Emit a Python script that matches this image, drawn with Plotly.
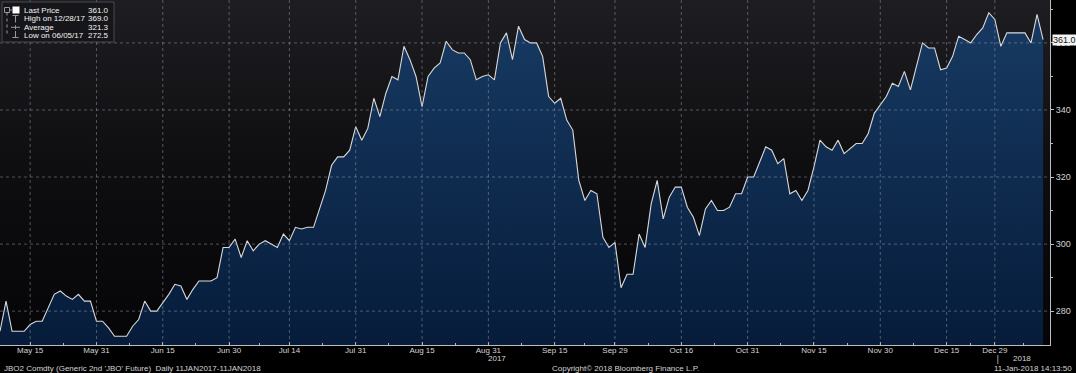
import plotly.graph_objects as go
import pandas as pd

# ---------------- data ----------------
HOLIDAYS = ["2017-05-29", "2017-08-28", "2017-12-25", "2017-12-26", "2018-01-01"]
DATES = [d.strftime("%Y-%m-%d") for d in pd.bdate_range("2017-05-08", "2018-01-11")
         if d.strftime("%Y-%m-%d") not in HOLIDAYS]

PRICES = [
    274.0, 283.0, 274.0, 274.0, 274.0, 276.0, 277.0, 277.0, 281.0, 285.0,
    286.0, 284.5, 283.5, 285.0, 283.0, 283.0, 277.0, 277.0, 275.0, 272.5,
    272.5, 272.5, 275.5, 277.5, 283.0, 280.0, 280.0, 282.5, 285.0, 288.0,
    287.5, 283.5, 286.5, 289.0, 289.0, 289.0, 290.0, 299.0, 299.0, 301.5,
    296.0, 301.0, 298.0, 300.0, 301.0, 300.0, 299.0, 303.0, 301.0, 305.0,
    304.5, 305.0, 305.0, 310.5, 316.0, 323.5, 326.0, 326.0, 328.0, 335.0,
    331.0, 334.5, 343.5, 338.0, 345.0, 350.0, 349.0, 359.0, 355.0, 350.0,
    341.0, 350.0, 352.5, 354.0, 360.5, 358.0, 357.0, 357.0, 355.0, 349.0,
    350.0, 350.5, 349.0, 360.0, 363.0, 355.0, 365.0, 361.0, 360.0, 360.0,
    356.0, 344.0, 342.0, 343.5, 337.0, 334.0, 319.0, 313.0, 316.0, 315.0,
    302.0, 299.0, 300.5, 287.0, 291.0, 291.0, 303.0, 299.0, 312.0, 319.0,
    307.5, 314.0, 317.0, 317.0, 311.0, 308.0, 302.5, 310.5, 313.0, 310.0,
    310.0, 311.0, 315.0, 315.0, 320.0, 320.0, 324.5, 329.0, 328.0, 324.0,
    325.5, 315.0, 316.0, 313.0, 316.0, 323.0, 331.0, 329.0, 328.0, 331.0,
    327.0, 328.5, 330.0, 330.0, 333.0, 339.0, 341.5, 344.0, 348.0, 347.0,
    351.5, 346.0, 353.0, 360.0, 358.5, 358.5, 352.0, 352.5, 356.0, 362.0,
    361.0, 360.0, 362.5, 364.5, 369.0, 367.0, 359.0, 363.0, 363.0, 363.0,
    363.0, 360.0, 368.5, 361.0,
]

TICK_DATES = ["2017-05-15", "2017-05-31", "2017-06-15", "2017-06-30", "2017-07-14",
              "2017-07-31", "2017-08-15", "2017-08-31", "2017-09-15", "2017-09-29",
              "2017-10-16", "2017-10-31", "2017-11-15", "2017-11-30", "2017-12-15",
              "2017-12-29"]
TICK_TEXT = ["May 15", "May 31", "Jun 15", "Jun 30", "Jul 14", "Jul 31", "Aug 15",
             "Aug 31", "Sep 15", "Sep 29", "Oct 16", "Oct 31", "Nov 15", "Nov 30",
             "Dec 15", "Dec 29"]
Y_TICKS = [280, 300, 320, 340, 360]
Y_MINOR = [290, 310, 330, 350, 370]
AVERAGE_STATED = 321.3

TITLE_LEFT = "JBO2 Comdty (Generic 2nd 'JBO' Future)  Daily 11JAN2017-11JAN2018"
TITLE_MID = "Copyright\u00a9 2018 Bloomberg Finance L.P."
TITLE_RIGHT = "11-Jan-2018 14:13:50"

# ---------------- derived ----------------
N = len(DATES)
XI = list(range(N))
tickvals = [DATES.index(d) for d in TICK_DATES]
minor_vals = [(a + b) / 2 for a, b in zip(tickvals[:-1], tickvals[1:])] + [tickvals[-1] + 4.8]
last_val = PRICES[-1]
hi_val = max(PRICES)
hi_date = pd.Timestamp(DATES[PRICES.index(hi_val)]).strftime("%m/%d/%y")
lo_val = min(PRICES)
lo_date = pd.Timestamp(DATES[PRICES.index(lo_val)]).strftime("%m/%d/%y")

Y_RANGE = [269.9, 372.8]
X_RANGE = [0, N + 0.15]

W, H = 1076, 373
PW, PH = 1050, 345   # plot area in pixels (left=0, top=0)
FONT = "Liberation Sans"
TXT = "#d4d4d4"


def px(x):
    return x / PW


def py(y):
    return 1 - y / PH


fig = go.Figure()

# plot-area background gradient
fig.add_trace(go.Scatter(
    x=[-2, N + 2], y=[400, 400], fill="tozeroy", mode="none",
    fillgradient=dict(type="vertical",
                      colorscale=[[0, "#050507"], [0.55, "#0f0f12"], [1, "#1e1e22"]],
                      start=Y_RANGE[0], stop=Y_RANGE[1]),
    hoverinfo="skip", showlegend=False))

# price area
fig.add_trace(go.Scatter(
    x=XI, y=PRICES, customdata=DATES, mode="lines", fill="tozeroy",
    line=dict(color="#d9d9d9", width=1.1),
    fillgradient=dict(type="vertical",
                      colorscale=[[0, "#061c3a"], [1, "#183b64"]],
                      start=Y_RANGE[0], stop=Y_RANGE[1]),
    hovertemplate="%{customdata}: %{y:.1f}<extra></extra>",
    showlegend=False))

shapes = []
GRID = dict(color="rgba(150,155,165,0.5)", width=1, dash="dot")
for v in tickvals:
    shapes.append(dict(type="line", xref="x", yref="paper", x0=v, x1=v, y0=0, y1=1,
                       line=GRID, layer="above"))
for v in Y_TICKS:
    shapes.append(dict(type="line", xref="paper", yref="y", x0=0, x1=1, y0=v, y1=v,
                       line=GRID, layer="above"))

# year separator
first_2018 = next(i for i, d in enumerate(DATES) if d.startswith("2018"))
shapes.append(dict(type="line", xref="x", yref="paper", x0=first_2018 - 0.5, x1=first_2018 - 0.5,
                   y0=py(355), y1=py(364), line=dict(color="#9a9a9a", width=1)))

# legend box
LG = "#9a9a9a"
shapes += [
    dict(type="rect", xref="paper", yref="paper", x0=px(2), x1=px(114), y0=py(2), y1=py(42),
         fillcolor="rgba(22,22,26,0.92)", line=dict(color="#4a4a4e", width=1), layer="above"),
    dict(type="rect", xref="paper", yref="paper", x0=px(4.5), x1=px(9.5), y0=py(7.5), y1=py(12.5),
         line=dict(color=LG, width=1), layer="above"),
    dict(type="line", xref="paper", yref="paper", x0=px(7), x1=px(7), y0=py(12.5), y1=py(35),
         line=dict(color=LG, width=1, dash="dot"), layer="above"),
    dict(type="line", xref="paper", yref="paper", x0=px(9.5), x1=px(12), y0=py(10), y1=py(10),
         line=dict(color=LG, width=1), layer="above"),
    dict(type="rect", xref="paper", yref="paper", x0=px(12.5), x1=px(19.5), y0=py(6.5), y1=py(13.5),
         fillcolor="#ffffff", line=dict(color="#ffffff", width=0), layer="above"),
    # high marker
    dict(type="line", xref="paper", yref="paper", x0=px(12.5), x1=px(18.5), y0=py(15.5), y1=py(15.5),
         line=dict(color=LG, width=1), layer="above"),
    dict(type="line", xref="paper", yref="paper", x0=px(15.5), x1=px(15.5), y0=py(15.5), y1=py(22.5),
         line=dict(color=LG, width=1), layer="above"),
    # average marker
    dict(type="line", xref="paper", yref="paper", x0=px(11), x1=px(20), y0=py(27.3), y1=py(27.3),
         line=dict(color=LG, width=1), layer="above"),
    dict(type="line", xref="paper", yref="paper", x0=px(15.5), x1=px(15.5), y0=py(25.3), y1=py(29.3),
         line=dict(color=LG, width=1), layer="above"),
    # low marker
    dict(type="line", xref="paper", yref="paper", x0=px(15.5), x1=px(15.5), y0=py(31), y1=py(37.5),
         line=dict(color=LG, width=1), layer="above"),
    dict(type="line", xref="paper", yref="paper", x0=px(12.5), x1=px(18.5), y0=py(37.5), y1=py(37.5),
         line=dict(color=LG, width=1), layer="above"),
]

annotations = []
legend_rows = [
    ("Last Price", f"{last_val:.1f}", 10),
    (f"High on {hi_date}", f"{hi_val:.1f}", 19),
    ("Average", f"{AVERAGE_STATED:.1f}", 27.3),
    (f"Low on {lo_date}", f"{lo_val:.1f}", 35),
]
for lab, val, yy in legend_rows:
    annotations.append(dict(xref="paper", yref="paper", x=px(22), y=py(yy), text=lab,
                            xanchor="left", yanchor="middle", showarrow=False,
                            font=dict(family=FONT, size=8, color="#f2f2f2")))
    annotations.append(dict(xref="paper", yref="paper", x=px(111), y=py(yy), text=val,
                            xanchor="right", yanchor="middle", showarrow=False,
                            font=dict(family=FONT, size=8, color="#f2f2f2")))

# last price tag on the axis
annotations.append(dict(xref="paper", yref="y", x=1, y=last_val, text=f"{last_val:.1f}",
                        xanchor="left", yanchor="middle", xshift=2, showarrow=False,
                        bgcolor="#f4f4f4", borderpad=0,
                        font=dict(family=FONT, size=9, color="#111111")))

# year labels
idx_2017 = [i for i, d in enumerate(DATES) if d.startswith("2017")]
idx_2018 = [i for i, d in enumerate(DATES) if d.startswith("2018")]
for yr, idx in (("2017", idx_2017), ("2018", idx_2018)):
    annotations.append(dict(xref="x", yref="paper", x=(idx[0] + idx[-1]) / 2, y=py(358.5),
                            text=yr, showarrow=False, xanchor="center", yanchor="middle",
                            font=dict(family=FONT, size=8, color=TXT)))

# footer
annotations += [
    dict(xref="paper", yref="paper", x=px(2), y=py(368), text=TITLE_LEFT, showarrow=False,
         xanchor="left", yanchor="middle", font=dict(family=FONT, size=8, color=TXT)),
    dict(xref="paper", yref="paper", x=px(625), y=py(368), text=TITLE_MID, showarrow=False,
         xanchor="center", yanchor="middle", font=dict(family=FONT, size=8, color=TXT)),
    dict(xref="paper", yref="paper", x=px(1074), y=py(368), text=TITLE_RIGHT, showarrow=False,
         xanchor="right", yanchor="middle", font=dict(family=FONT, size=8, color=TXT)),
]

fig.update_layout(
    width=W, height=H,
    margin=dict(l=0, r=W - PW, t=0, b=H - PH, pad=0),
    paper_bgcolor="#000000", plot_bgcolor="#0b0b0e",
    showlegend=False,
    shapes=shapes, annotations=annotations,
    xaxis=dict(range=X_RANGE, tickmode="array", tickvals=tickvals, ticktext=TICK_TEXT,
               showgrid=False, zeroline=False, showline=True, linecolor="#bdbdbd", linewidth=1,
               ticks="inside", ticklen=3, tickcolor="#bdbdbd", ticklabelstandoff=-3,
               tickfont=dict(family=FONT, size=8, color=TXT),
               minor=dict(tickmode="array", tickvals=minor_vals, ticks="inside", ticklen=2,
                          tickcolor="#bdbdbd", showgrid=False),
               layer="above traces"),
    yaxis=dict(range=Y_RANGE, side="right", tickmode="array", tickvals=Y_TICKS,
               showgrid=False, zeroline=False, showline=True, linecolor="#bdbdbd", linewidth=1,
               ticks="outside", ticklen=3, tickcolor="#bdbdbd",
               tickfont=dict(family=FONT, size=9, color=TXT),
               minor=dict(tickmode="array", tickvals=Y_MINOR, ticks="outside", ticklen=2,
                          tickcolor="#bdbdbd", showgrid=False),
               layer="above traces"),
    font=dict(family=FONT, color=TXT),
)

fig.write_html("out.html", config={"displayModeBar": False},
               post_script="document.body.style.margin='0';document.body.style.background='#000';")
